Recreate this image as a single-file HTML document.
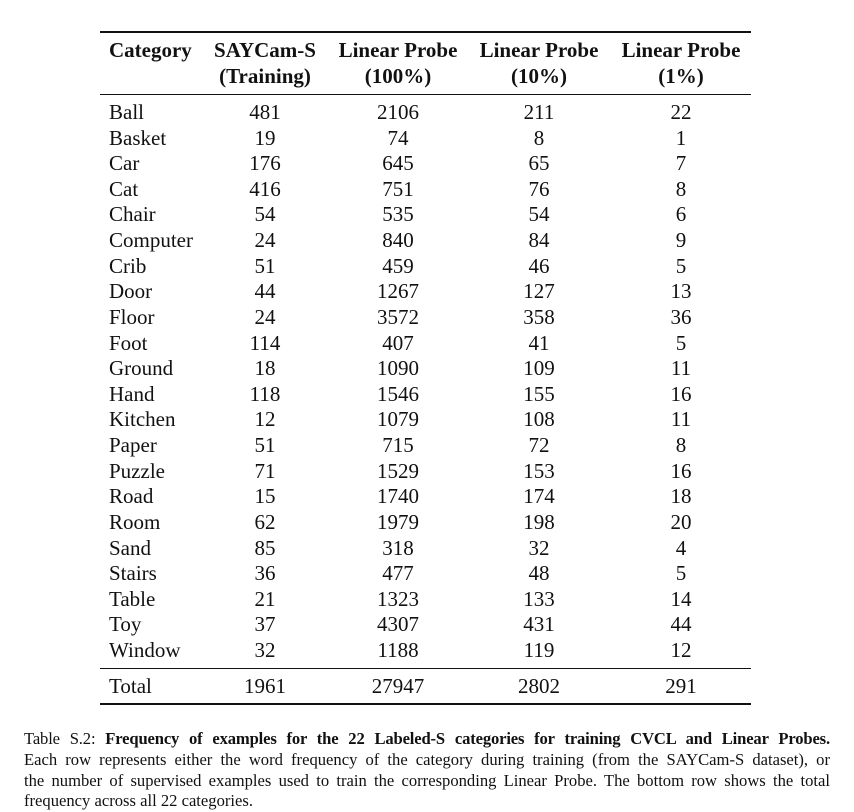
<!DOCTYPE html>
<html><head><meta charset="utf-8"><style>
body{margin:0;width:854px;height:812px;background:#fff;position:relative;font-family:"Liberation Serif",serif;color:#111;overflow:hidden}
.r{position:absolute;left:100px;width:651px;background:#111}
.t{position:absolute;font-size:21px;line-height:22px;white-space:nowrap}
.c{transform:translateX(-50%)}
.h{font-weight:bold}
.cap{position:absolute;left:24px;width:806px;font-size:16.6px;line-height:20px;white-space:nowrap;text-align:justify;text-align-last:justify}
</style></head><body>
<div class="r" style="top:31px;height:1.6px"></div>
<div class="r" style="top:94px;height:1px"></div>
<div class="r" style="top:668px;height:1px"></div>
<div class="r" style="top:703px;height:1.6px"></div>
<div id="tb"></div>
<div class="cap" style="top:729px;letter-spacing:-0.15px">Table S.2: <b>Frequency of examples for the 22 Labeled-S categories for training CVCL and Linear Probes.</b></div>
<div class="cap" style="top:750px">Each row represents either the word frequency of the category during training (from the SAYCam-S dataset), or</div>
<div class="cap" style="top:771px">the number of supervised examples used to train the corresponding Linear Probe. The bottom row shows the total</div>
<div class="cap" style="top:791px;text-align-last:left">frequency across all 22 categories.</div>
<script>
var cx=[0,265,398,539,681];
var H=[["Category","SAYCam-S","Linear Probe","Linear Probe","Linear Probe"],["","(Training)","(100%)","(10%)","(1%)"]];
var D=[["Ball",481,2106,211,22],["Basket",19,74,8,1],["Car",176,645,65,7],["Cat",416,751,76,8],["Chair",54,535,54,6],["Computer",24,840,84,9],["Crib",51,459,46,5],["Door",44,1267,127,13],["Floor",24,3572,358,36],["Foot",114,407,41,5],["Ground",18,1090,109,11],["Hand",118,1546,155,16],["Kitchen",12,1079,108,11],["Paper",51,715,72,8],["Puzzle",71,1529,153,16],["Road",15,1740,174,18],["Room",62,1979,198,20],["Sand",85,318,32,4],["Stairs",36,477,48,5],["Table",21,1323,133,14],["Toy",37,4307,431,44],["Window",32,1188,119,12]];
var s="";
function row(r,y,cls){for(var j=0;j<5;j++){if(j==0)s+='<div class="t '+cls+'" style="left:109px;top:'+(y-11)+'px">'+r[0]+'</div>';else s+='<div class="t c '+cls+'" style="left:'+cx[j]+'px;top:'+(y-11)+'px">'+r[j]+'</div>';}}
row(H[0],50,"h");row(H[1],76,"h");
for(var i=0;i<D.length;i++)row(D[i],112+i*25.62,"");
row(["Total",1961,27947,2802,291],686,"");
document.getElementById("tb").innerHTML=s;
</script>
</body></html>
